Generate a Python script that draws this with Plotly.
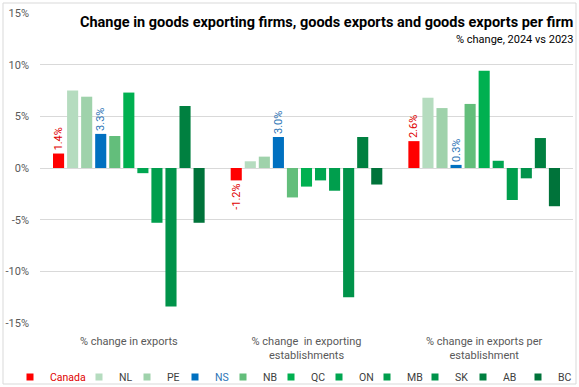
import plotly.graph_objects as go

categories = ["% change in exports",
              "% change  in exporting<br>establishments",
              "% change in exports per<br>establishment"]
regions = ["Canada", "NL", "PE", "NS", "NB", "QC", "ON", "MB", "SK", "AB", "BC"]
values = {
    "Canada": [1.4, -1.2, 2.6],
    "NL": [7.5, 0.65, 6.8],
    "PE": [6.9, 1.1, 5.8],
    "NS": [3.3, 3.0, 0.3],
    "NB": [3.1, -2.85, 6.2],
    "QC": [7.3, -1.8, 9.4],
    "ON": [-0.5, -1.2, 0.7],
    "MB": [-5.3, -2.2, -3.1],
    "SK": [-13.4, -12.5, -1.0],
    "AB": [6.0, 3.0, 2.9],
    "BC": [-5.3, -1.6, -3.7],
}
colors = {
    "Canada": "#FF0000", "NL": "#B5DCBF", "PE": "#9FD2AB", "NS": "#0070C0",
    "NB": "#63BE7B", "QC": "#00B050", "ON": "#00A651", "MB": "#009E4D",
    "SK": "#00934A", "AB": "#008040", "BC": "#00733A",
}
labelled = {"Canada": "#E00000", "NS": "#2E75B6"}
yticks = [-15, -10, -5, 0, 5, 10, 15]

FONT = "Roboto, Liberation Sans, sans-serif"

L, R, T, B = 40, 6, 13, 64
W, H = 579, 387
pw, ph = W - L - R, H - T - B
def px(x):
    return (x - L) / pw
def py(y):
    return (H - B - y) / ph

def legend_for(r):
    if r == "Canada":
        return "legend"
    if r == "BC":
        return "legend3"
    return "legend2"

fig = go.Figure()
for r in regions:
    kw = {}
    if r in labelled:
        kw = dict(text=[f"{v:.1f}%" for v in values[r]], textposition="outside",
                  textangle=-90, constraintext="none",
                  textfont=dict(color=labelled[r], size=11, family=FONT),
                  cliponaxis=False)
    fig.add_trace(go.Bar(x=categories, y=values[r], name=r, marker_color=colors[r],
                         marker_line_width=0, showlegend=False, hoverinfo="y", **kw))
for r in regions:
    nm = f"<span style='color:{labelled[r]}'>{r}</span>" if r in labelled else r
    fig.add_trace(go.Scatter(x=[None], y=[None], mode="markers", name=nm,
                             legend=legend_for(r),
                             marker=dict(symbol="square", size=7, color=colors[r]),
                             showlegend=True))
    if r == "AB":
        # empty spacer entry so the last visible legend2 label is not clipped
        fig.add_trace(go.Scatter(x=[None], y=[None], mode="markers", name="\u00a0",
                                 legend="legend2", hoverinfo="skip",
                                 marker=dict(symbol="square", size=7, color="rgba(0,0,0,0)"),
                                 showlegend=True))

leg_common = dict(orientation="h", xanchor="left", y=py(377), yanchor="middle",
                  font=dict(size=10.5, color="#404040"), itemwidth=30, bgcolor="rgba(0,0,0,0)")

fig.update_layout(
    width=W, height=H, margin=dict(l=L, r=R, t=T, b=B, autoexpand=False),
    paper_bgcolor="white", plot_bgcolor="white",
    barmode="group", bargap=0.13, bargroupgap=0.21,
    font=dict(family=FONT, size=11, color="#595959"),
    xaxis=dict(showgrid=False, showline=False, ticks="", automargin=False,
               ticklabelstandoff=10, tickfont=dict(size=11, color="#595959")),
    yaxis=dict(range=[-15, 15], tickvals=yticks, ticktext=[f"{v}%" for v in yticks],
               showgrid=True, gridcolor="#D9D9D9", gridwidth=1, zeroline=True,
               zerolinecolor="#D9D9D9", zerolinewidth=1, ticks="", ticklabelstandoff=10,
               automargin=False, tickfont=dict(size=11, color="#595959")),
    legend=dict(x=px(10), **leg_common),
    legend2=dict(x=px(79), entrywidth=3, entrywidthmode="pixels", **leg_common),
    legend3=dict(x=px(518), **leg_common),
    annotations=[
        dict(text="<b>Change in goods exporting firms, goods exports and goods exports per firm</b>",
             xref="paper", yref="paper", x=px(575), y=py(22), xanchor="right", yanchor="middle",
             showarrow=False, font=dict(size=14.5, color="#000000", family=FONT)),
        dict(text="% change, 2024 vs 2023", xref="paper", yref="paper", x=px(575), y=py(40),
             xanchor="right", yanchor="middle", showarrow=False,
             font=dict(size=11, color="#000000", family=FONT)),
    ],
    shapes=[dict(type="rect", xref="paper", yref="paper", x0=px(3), x1=px(576),
                 y0=py(384), y1=py(3), line=dict(color="#D9D9D9", width=1), layer="below")],
)
fig.write_html("out.html", config={"displayModeBar": False},
               post_script="document.body.style.margin='0';document.body.style.overflow='hidden';")
